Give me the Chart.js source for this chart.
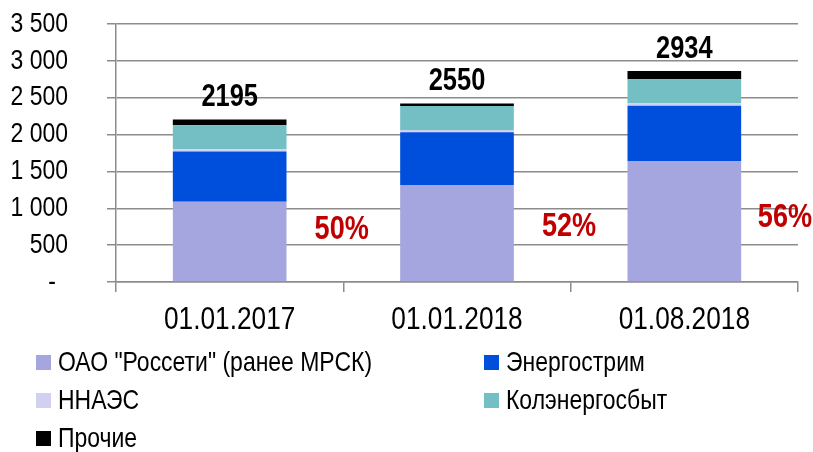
<!DOCTYPE html>
<html>
<head>
<meta charset="utf-8">
<script src="https://cdn.jsdelivr.net/npm/chart.js@4"></script>
<style>
  body { margin: 0; background: #fff; }
  #wrap { position: relative; width: 813px; height: 452px; }
  #chart { position: absolute; left: 0; top: 0; }
  .leg { position: absolute; display: flex; align-items: center; height: 30px;
         font: 28px "Liberation Sans", Arial, sans-serif; color: #000; white-space: nowrap; }
  .leg i { display: inline-block; width: 15px; height: 15px; margin-right: 7px; flex: none; }
  .leg span { display: inline-block; transform: scaleX(0.82); transform-origin: left center; }
</style>
</head>
<body>
<div id="wrap">
  <canvas id="chart" width="813" height="452"></canvas>
</div>
<script>
const categories = ["01.01.2017", "01.01.2018", "01.08.2018"];

// stacked series (bottom to top)
const rosseti = [1090, 1315, 1642];
const energostrim = [680, 715, 750];
const nnaes = [30, 31, 32];
const kolenergo = [325, 326, 326];
const prochie = [80, 36, 113];

const totalLabels = ["2195", "2550", "2934"];
const shareLabels = ["50%", "52%", "56%"];

const seriesNames = ["ОАО \"Россети\" (ранее МРСК)", "Энергострим", "ННАЭС", "Колэнергосбыт", "Прочие"];
const seriesColors = ["#a5a5df", "#004fdc", "#d0d0f0", "#74bfc4", "#000000"];

const FONT = "'Liberation Sans', Arial, sans-serif";
const NARROW = 0.82; // squeeze Arial metrics down to Arial Narrow

function narrowText(ctx, text, x, y, font, color, align, base) {
  ctx.save();
  ctx.font = font;
  ctx.fillStyle = color;
  ctx.textAlign = align;
  ctx.textBaseline = base;
  ctx.translate(x, y);
  ctx.scale(NARROW, 1);
  ctx.fillText(text, 0, 0);
  ctx.restore();
}

function fmt(v) {
  return v === 0 ? "-" : String(v).replace(/\B(?=(\d{3})+(?!\d))/g, " ");
}

// axis tick labels drawn narrow, at the scales' own tick positions
const tickPlugin = {
  id: "narrowTicks",
  afterDraw(chart) {
    const ctx = chart.ctx;
    const x = chart.scales.x, y = chart.scales.y;
    y.ticks.forEach((t, i) => {
      const py = y.getPixelForTick(i);
      narrowText(ctx, fmt(t.value), t.value === 0 ? 56 : 68, py, "28px " + FONT, "#000", "right", "middle");
    });
    x.ticks.forEach((t, i) => {
      narrowText(ctx, categories[i], x.getPixelForTick(i), 320, "32px " + FONT, "#000", "center", "middle");
    });
  }
};

// text over the bars: totals and shares
const labelPlugin = {
  id: "labels",
  afterDatasetsDraw(chart) {
    const ctx = chart.ctx;
    const y = chart.scales.y;
    const top = chart.getDatasetMeta(chart.data.datasets.length - 1);
    const shareLevel = [705, 745, 870];
    categories.forEach((c, i) => {
      const bar = top.data[i];
      narrowText(ctx, totalLabels[i], bar.x, bar.y - 13, "bold 31px " + FONT, "#000", "center", "alphabetic");

      ctx.font = "bold 33px " + FONT;
      const w = ctx.measureText(shareLabels[i]).width * NARROW;
      const cx = Math.min(bar.x + 112, chart.width - w / 2 - 1);
      narrowText(ctx, shareLabels[i], cx, y.getPixelForValue(shareLevel[i]), "bold 33px " + FONT, "#c00000", "center", "middle");
    });
  }
};

const series = [rosseti, energostrim, nnaes, kolenergo, prochie];

new Chart(document.getElementById("chart"), {
  type: "bar",
  data: {
    labels: categories,
    datasets: series.map((d, k) => ({
      label: seriesNames[k],
      data: d,
      backgroundColor: seriesColors[k],
      barPercentage: 0.5,
      categoryPercentage: 1.0
    }))
  },
  options: {
    responsive: false,
    animation: false,
    layout: { padding: { left: 0, right: 15, top: 24, bottom: 110 } },
    plugins: {
      legend: { display: false },
      tooltip: { enabled: false }
    },
    scales: {
      x: {
        stacked: true,
        afterFit: (s) => { s.height = 60; },
        grid: { offset: true, drawOnChartArea: false, drawTicks: true, tickLength: 10, color: "#8c8c8c", lineWidth: 1.5 },
        border: { color: "#8c8c8c", width: 1.5 },
        ticks: { display: false }
      },
      y: {
        stacked: true,
        min: 0,
        max: 3500,
        afterFit: (s) => { s.width = 116; },
        grid: { color: "#8c8c8c", lineWidth: 1.5, tickLength: 9 },
        border: { color: "#8c8c8c", width: 1.5 },
        ticks: { stepSize: 500, autoSkip: false, display: false }
      }
    }
  },
  plugins: [labelPlugin, tickPlugin]
});

// legend in two columns, built from the series
const wrap = document.getElementById("wrap");
const legPos = [[36, 347], [484, 347], [36, 385], [484, 385], [36, 423]];
seriesNames.forEach((n, k) => {
  const el = document.createElement("div");
  el.className = "leg";
  el.style.left = legPos[k][0] + "px";
  el.style.top = legPos[k][1] + "px";
  el.innerHTML = '<i style="background:' + seriesColors[k] + '"></i>';
  const s = document.createElement("span");
  s.textContent = n;
  el.appendChild(s);
  wrap.appendChild(el);
});
</script>
</body>
</html>
